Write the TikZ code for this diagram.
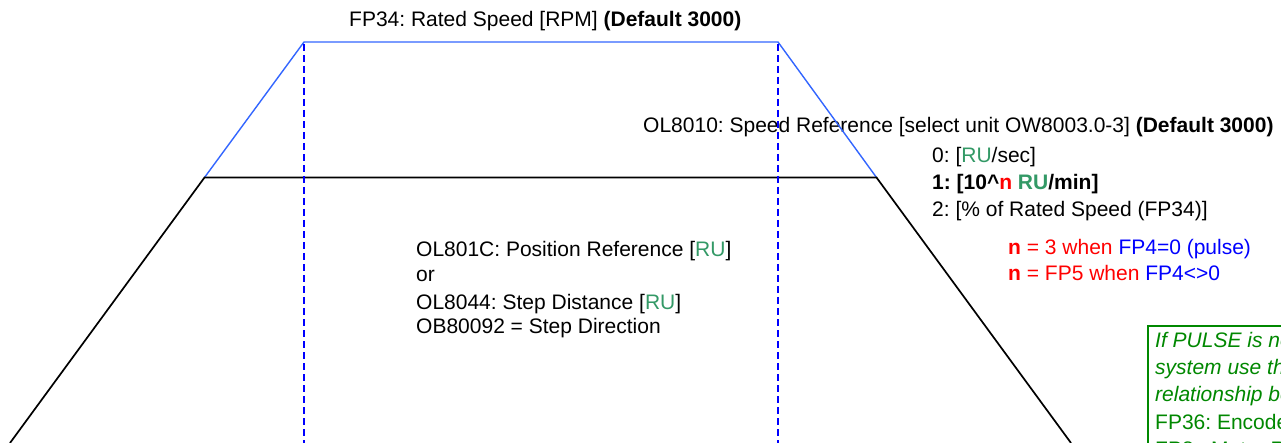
\documentclass[tikz,border=0pt]{standalone}
\usepackage{fontspec}
\setmainfont{Liberation Sans}
\frenchspacing
\definecolor{ruG}{RGB}{51,153,102}
\definecolor{lineB}{RGB}{51,102,255}
\definecolor{dashB}{RGB}{0,0,255}
\definecolor{noteG}{RGB}{0,136,0}
\definecolor{txtR}{RGB}{255,0,0}
\begin{document}
\begin{tikzpicture}[x=1pt,y=-1pt,
  lbl/.style={anchor=base west,inner sep=0pt,font=\fontsize{21}{26}\selectfont\frenchspacing},
  notelbl/.style={lbl,text=noteG},
  profile/.style={line width=1.7pt,black,line join=miter},
  ratedline/.style={line width=1.4pt,lineB,line join=miter},
  guide/.style={line width=1.8pt,dashB,dash pattern=on 7pt off 4pt},
  notebox/.style={line width=1.6pt,noteG}]
\useasboundingbox (0,0) rectangle (1281,443);
\clip (0,0) rectangle (1281,443);
\fill[white] (0,0) rectangle (1281,443);
% texts
\node[lbl] (t34) at (349,27) {FP34: Rated Speed [RPM] \textbf{(Default 3000)}};
\node[lbl] (t8010) at (643,133) {OL8010: Speed Reference [select unit OW8003.0-3] \textbf{(Default 3000)}};
\node[lbl] (u0) at (932,163) {0: [\textcolor{ruG}{RU}/sec]};
\node[lbl] (u1) at (932,190) {\textbf{1: [10\textasciicircum\textcolor{txtR}{n} \textcolor{ruG}{RU}/min]}};
\node[lbl] (u2) at (932,217) {2: [\% of Rated Speed (FP34)]};
\node[lbl] (n1) at (1008,255) {\textcolor{txtR}{\textbf{n} = 3 when }\textcolor{dashB}{FP4=0 (pulse)}};
\node[lbl] (n2) at (1008,281) {\textcolor{txtR}{\textbf{n} = FP5 when }\textcolor{dashB}{FP4<>0}};
\node[lbl] (m1) at (416,257) {OL801C: Position Reference [\textcolor{ruG}{RU}]};
\node[lbl] (m2) at (416,282) {or};
\node[lbl] (m3) at (416,309) {OL8044: Step Distance [\textcolor{ruG}{RU}]};
\node[lbl] (m4) at (416,334) {OB80092 = Step Direction};
% note box (cut by the picture edge, as in the reference)
\draw[notebox] (1148,326) rectangle (1320,480);
\node[notelbl] (g1) at (1155,347) {\itshape If PULSE is not used in the};
\node[notelbl] (g2) at (1155,374) {\itshape system use the};
\node[notelbl] (g3) at (1155,401) {\itshape relationship between};
\node[notelbl] (g4) at (1155,429) {FP36: Encoder Resolution};
\node[notelbl] (g5) at (1155,456) {FP8 : Motor Rated Speed};
% profile corners
\coordinate (bl) at (10,443);
\coordinate (blc) at (204.5,177.5);
\coordinate (brc) at (876.5,177.5);
\coordinate (br) at (1071,443);
\coordinate (ttl) at (304,42);
\coordinate (ttr) at (778,42);
\coordinate (dlt) at (304,44);
\coordinate (drt) at (778,44);
\coordinate (dl) at (304,445);
\coordinate (dr) at (778,445);
\draw[ratedline] (blc) -- (ttl) -- (ttr) -- (brc);
\draw[profile] (bl) -- (blc) -- (brc) -- (br);
\draw[guide] (dlt) -- (dl);
\draw[guide] (drt) -- (dr);
\end{tikzpicture}
\end{document}
